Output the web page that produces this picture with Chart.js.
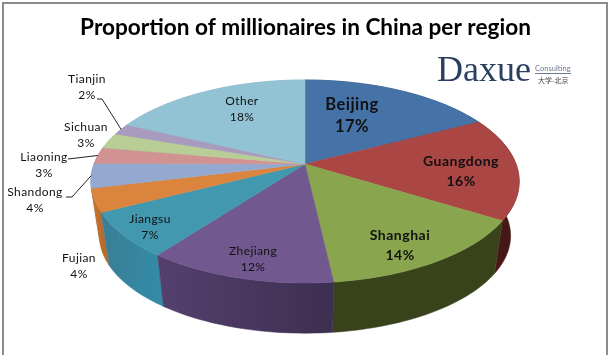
<!DOCTYPE html>
<html>
<head>
<meta charset="utf-8">
<title>Proportion of millionaires in China per region</title>
<style>
  html, body { margin: 0; padding: 0; background: #fff; }
  #wrap { position: relative; width: 611px; height: 355px; }
  canvas { position: absolute; left: 0; top: 0; }
</style>
<script src="https://cdn.jsdelivr.net/npm/chart.js@4"></script>
</head>
<body>
<div id="wrap"><canvas id="pie" width="611" height="355"></canvas></div>
<script>
const titleText = 'Proportion of millionaires in China per region';
const regions = ['Beijing', 'Guangdong', 'Shanghai', 'Zhejiang', 'Jiangsu', 'Fujian', 'Shandong', 'Liaoning', 'Sichuan', 'Tianjin', 'Other'];
// the printed labels are these rounded
const shares = [17.4, 16.4, 14.4, 12.1, 7.2, 3.7, 3.9, 2.6, 2.5, 1.8, 18.0];

const topColors = ['#4572a7', '#aa4643', '#89a54e', '#71588f', '#4198af', '#db843d', '#93a9cf', '#d19392', '#b9cd96', '#a99bbd', '#92c3d4'];
const wallLeft = ['#2f4d72', '#5a1f1d', '#39431b', '#54406e', '#3a7d96', '#c9772f', '#7f93b5', '#b57f7e', '#a0b281', '#9486a5', '#7eaab9'];
const wallRight = ['#2a4566', '#451715', '#39431b', '#3d2f50', '#338ba6', '#b86c2a', '#7f93b5', '#b57f7e', '#a0b281', '#9486a5', '#7eaab9'];

// centre of each text block, Excel labels were placed by hand here
const labelCenters = [[352, 116], [461, 171], [400, 245], [253, 259], [150, 227], [79, 266], [35, 200], [44, 165], [86, 135], [87, 87], [242, 109]];
const labelFontSize = { Beijing: 16.5, Guangdong: 14, Shanghai: 14 };
// leader lines start here and run to the middle of the slice rim
const leaders = { Tianjin: [[97, 99], [102, 99]], Liaoning: [[68, 159]], Shandong: [[66, 197], [72, 197]] };

// perspective of the tilted disc
const apex = { x: 305, y: 164 };
const halfWidth = 211, halfDepth = 98.5, tilt = 0.172;
const bottomDrop = 55, bottomShrink = 0.96;

function project(ux, uy, bottom) {
  const w = 1 - tilt * uy;
  const k = bottom ? bottomShrink : 1;
  return {
    x: apex.x + k * halfWidth * ux / w,
    y: apex.y + k * halfDepth * uy / w + (bottom ? bottomDrop : 0)
  };
}

function rimPoint(angle, bottom) {
  return project(Math.cos(angle), Math.sin(angle), bottom);
}

function traceRim(ctx, a0, a1, bottom, first) {
  const steps = Math.max(4, Math.ceil(Math.abs(a1 - a0) * 40));
  for (let i = 0; i <= steps; i++) {
    const p = rimPoint(a0 + (a1 - a0) * i / steps, bottom);
    if (i === 0 && first) ctx.moveTo(p.x, p.y);
    else ctx.lineTo(p.x, p.y);
  }
}

const tiltedPie = {
  id: 'tiltedPie',
  beforeDatasetDraw(chart) {
    const ctx = chart.ctx;
    const arcs = chart.getDatasetMeta(0).data;
    ctx.save();

    // side walls first, the top face covers whatever is behind it
    const order = arcs.map((a, i) => i).sort((i, j) =>
      Math.sin((arcs[i].startAngle + arcs[i].endAngle) / 2) - Math.sin((arcs[j].startAngle + arcs[j].endAngle) / 2));
    order.forEach(i => {
      const arc = arcs[i];
      const p0 = rimPoint(arc.startAngle), p1 = rimPoint(arc.endAngle);
      const grad = ctx.createLinearGradient(Math.min(p0.x, p1.x), 0, Math.max(p0.x, p1.x) + 1, 0);
      grad.addColorStop(0, wallLeft[i]);
      grad.addColorStop(1, wallRight[i]);
      ctx.beginPath();
      traceRim(ctx, arc.startAngle, arc.endAngle, false, true);
      traceRim(ctx, arc.endAngle, arc.startAngle, true, false);
      ctx.closePath();
      ctx.fillStyle = grad;
      ctx.fill();
      ctx.strokeStyle = grad;
      ctx.lineWidth = 0.5;
      ctx.stroke();
    });

    arcs.forEach((arc, i) => {
      ctx.beginPath();
      ctx.moveTo(apex.x, apex.y);
      traceRim(ctx, arc.startAngle, arc.endAngle, false, false);
      ctx.closePath();
      ctx.fillStyle = topColors[i];
      ctx.fill();
      ctx.strokeStyle = topColors[i];
      ctx.lineWidth = 0.5;
      ctx.stroke();
    });

    ctx.restore();
    return false;
  },
  afterDatasetsDraw(chart) {
    const ctx = chart.ctx;
    const arcs = chart.getDatasetMeta(0).data;
    ctx.save();
    ctx.textAlign = 'center';
    ctx.textBaseline = 'middle';
    ctx.fillStyle = '#111';

    regions.forEach((name, i) => {
      const c = labelCenters[i];
      const bold = name in labelFontSize;
      const size = bold ? labelFontSize[name] : 12;
      const gap = bold ? (name === 'Beijing' ? 11 : 10) : 8;
      ctx.font = (bold ? 'bold ' : '') + size + 'px Lato';
      ctx.letterSpacing = bold ? '0.5px' : '0.4px';
      ctx.fillText(name, c[0], c[1] - gap);
      ctx.fillText(Math.round(shares[i]) + '%', c[0], c[1] + gap);

      if (leaders[name]) {
        const mid = (arcs[i].startAngle + arcs[i].endAngle) / 2;
        const end = rimPoint(mid);
        ctx.beginPath();
        leaders[name].forEach((p, k) => k ? ctx.lineTo(p[0], p[1]) : ctx.moveTo(p[0], p[1]));
        ctx.lineTo(end.x, end.y);
        ctx.strokeStyle = '#222';
        ctx.lineWidth = 1;
        ctx.stroke();
      }
    });
    ctx.restore();
  },
  afterDraw(chart) {
    const ctx = chart.ctx;
    ctx.save();
    // frame of the screenshot, open at the bottom
    ctx.strokeStyle = '#8c8c8c';
    ctx.lineWidth = 2;
    ctx.beginPath();
    ctx.moveTo(3, 355);
    ctx.lineTo(3, 3);
    ctx.lineTo(607, 3);
    ctx.lineTo(607, 355);
    ctx.stroke();

    // Daxue logo
    ctx.fillStyle = '#2b4060';
    ctx.textBaseline = 'alphabetic';
    ctx.textAlign = 'left';
    ctx.font = '36px "Liberation Serif"';
    ctx.letterSpacing = '0px';
    ctx.fillText('Daxue', 437, 81);
    ctx.fillStyle = '#6b7a90';
    ctx.font = '7.6px Lato';
    ctx.fillText('Consulting', 535, 71);
    ctx.fillRect(535, 73, 36, 1);
    ctx.fillStyle = '#444';
    ctx.font = '7px "Noto Sans CJK SC"';
    ctx.fillText('大学-北京', 538, 83);
    ctx.restore();
  }
};

new Chart(document.getElementById('pie'), {
  type: 'pie',
  data: {
    labels: regions,
    datasets: [{ data: shares, backgroundColor: topColors, borderWidth: 0 }]
  },
  options: {
    responsive: false,
    animation: false,
    plugins: {
      legend: { display: false },
      tooltip: { enabled: false },
      title: {
        display: true,
        text: titleText,
        color: '#000',
        font: { family: 'Lato', size: 22.6, weight: 'bold' },
        padding: { top: 14, bottom: 4 }
      }
    }
  },
  plugins: [tiltedPie]
});
</script>
</body>
</html>
